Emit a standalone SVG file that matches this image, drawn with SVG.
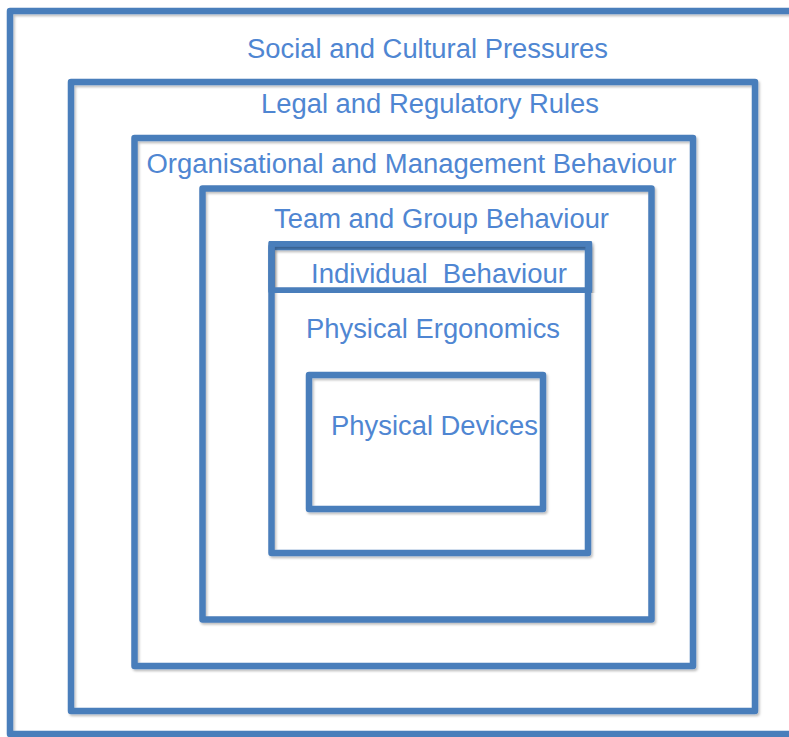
<svg xmlns="http://www.w3.org/2000/svg" width="789" height="737" viewBox="0 0 789 737">
  <defs>
    <filter id="sh" x="-5%" y="-5%" width="110%" height="110%">
      <feDropShadow dx="1.5" dy="2" stdDeviation="1.2" flood-color="#000" flood-opacity="0.25"/>
    </filter>
    <style>
      .box { fill: none; stroke: #4a7ebb; stroke-width: 6.5; stroke-linejoin: round; filter: url(#sh); }
      .lbl { font-family: "Liberation Sans", Arial, sans-serif; font-size: 27px; fill: #4f86d2; }
    </style>
  </defs>
  <rect width="789" height="737" fill="#ffffff"/>
  <g id="social">
    <rect class="box" x="10" y="11" width="800" height="723"/>
    <text class="lbl" x="247" y="58" textLength="361" lengthAdjust="spacingAndGlyphs">Social and Cultural Pressures</text>
  </g>
  <g id="legal">
    <rect class="box" x="71" y="82" width="684" height="629"/>
    <text class="lbl" x="261" y="113" textLength="338" lengthAdjust="spacingAndGlyphs">Legal and Regulatory Rules</text>
  </g>
  <g id="organisational">
    <rect class="box" x="134.5" y="138" width="558.5" height="528"/>
    <text class="lbl" x="146.5" y="173" textLength="530" lengthAdjust="spacingAndGlyphs">Organisational and Management Behaviour</text>
  </g>
  <g id="team">
    <rect class="box" x="202.5" y="188.5" width="449" height="431"/>
    <text class="lbl" x="274" y="228" textLength="335" lengthAdjust="spacingAndGlyphs">Team and Group Behaviour</text>
  </g>
  <g id="ergonomics">
    <rect class="box" x="271.5" y="247" width="316.5" height="306"/>
    <text class="lbl" x="306" y="338" textLength="254" lengthAdjust="spacingAndGlyphs">Physical Ergonomics</text>
  </g>
  <g id="individual">
    <rect class="box" x="271.5" y="243.5" width="317.5" height="47"/>
    <text class="lbl" x="311" y="283" textLength="256" lengthAdjust="spacingAndGlyphs" xml:space="preserve">Individual  Behaviour</text>
  </g>
  <g id="devices">
    <rect class="box" x="309" y="375" width="234" height="134"/>
    <text class="lbl" x="331" y="435" textLength="207" lengthAdjust="spacingAndGlyphs">Physical Devices</text>
  </g>
  <g id="connectors"/>
</svg>
